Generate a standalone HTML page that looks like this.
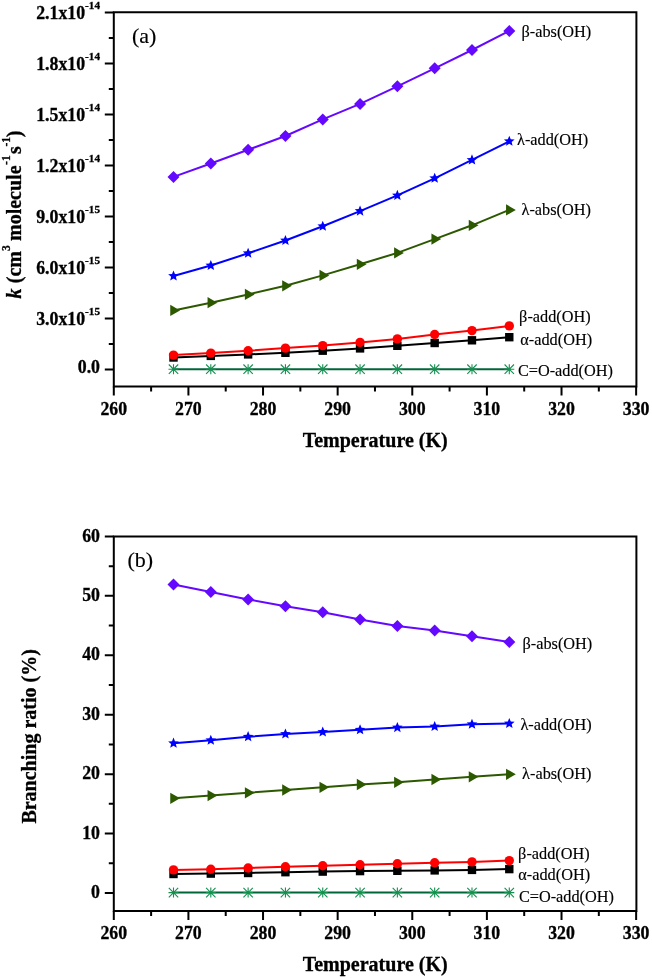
<!DOCTYPE html>
<html><head><meta charset="utf-8"><style>
html,body{margin:0;padding:0;background:#fff;}
svg{display:block;will-change:transform;}
text{font-family:"Liberation Serif",serif;fill:#000;stroke:#000;stroke-width:0.3px;}
.tk{font-size:17.8px;font-weight:bold;}
.sp{font-size:11.2px;}
.ti{font-size:20px;font-weight:bold;}
.kl{font-size:19.6px;}
.sp2{font-size:12px;}
.pl{font-size:22px;stroke-width:0.15px;}
.lb{font-size:16.3px;stroke-width:0.15px;}
</style></head><body>
<svg width="652" height="978" viewBox="0 0 652 978">
<rect width="652" height="978" fill="#fff"/>
<path d="M113.8 12.2V386.5M112.8 12.2H637.4M636.4 12.2V386.5M112.8 386.5H637.4" stroke="#000" stroke-width="2" fill="none"/>
<path d="M113.8 386.5V395.5M188.42 386.5V395.5M263.04 386.5V395.5M337.66 386.5V395.5M412.28 386.5V395.5M486.9 386.5V395.5M561.52 386.5V395.5M636.14 386.5V395.5M151.11 386.5V391.5M225.73 386.5V391.5M300.35 386.5V391.5M374.97 386.5V391.5M449.59 386.5V391.5M524.21 386.5V391.5M598.83 386.5V391.5M113.8 369.4H104.8M113.8 318.4H104.8M113.8 267.4H104.8M113.8 216.4H104.8M113.8 165.4H104.8M113.8 114.4H104.8M113.8 63.4H104.8M113.8 12.4H104.8M113.8 343.9H108.8M113.8 292.9H108.8M113.8 241.9H108.8M113.8 190.9H108.8M113.8 139.9H108.8M113.8 88.9H108.8M113.8 37.9H108.8" stroke="#000" stroke-width="2" fill="none"/>
<path d="M113.8 536.4V910.9M112.8 536.4H637.4M636.4 536.4V910.9M112.8 910.9H637.4" stroke="#000" stroke-width="2" fill="none"/>
<path d="M113.8 910.9V919.9M188.42 910.9V919.9M263.04 910.9V919.9M337.66 910.9V919.9M412.28 910.9V919.9M486.9 910.9V919.9M561.52 910.9V919.9M636.14 910.9V919.9M151.11 910.9V915.9M225.73 910.9V915.9M300.35 910.9V915.9M374.97 910.9V915.9M449.59 910.9V915.9M524.21 910.9V915.9M598.83 910.9V915.9M113.8 893H104.8M113.8 833.57H104.8M113.8 774.14H104.8M113.8 714.71H104.8M113.8 655.28H104.8M113.8 595.85H104.8M113.8 536.42H104.8M113.8 863.28H108.8M113.8 803.86H108.8M113.8 744.42H108.8M113.8 685H108.8M113.8 625.57H108.8M113.8 566.13H108.8" stroke="#000" stroke-width="2" fill="none"/>
<polyline points="173.5,369.2 210.81,369.2 248.12,369.2 285.43,369.2 322.74,369.2 360.05,369.2 397.36,369.2 434.67,369.2 471.98,369.2 509.29,369.2" fill="none" stroke="#00663A" stroke-width="2" stroke-linejoin="round"/>
<path d="M168.5 369.2H178.5M173.5 364.2V374.2M168.8 364.5L178.2 373.9M168.8 373.9L178.2 364.5" stroke="#14904F" stroke-width="1.1" fill="none"/>
<path d="M205.81 369.2H215.81M210.81 364.2V374.2M206.11 364.5L215.51 373.9M206.11 373.9L215.51 364.5" stroke="#14904F" stroke-width="1.1" fill="none"/>
<path d="M243.12 369.2H253.12M248.12 364.2V374.2M243.42 364.5L252.82 373.9M243.42 373.9L252.82 364.5" stroke="#14904F" stroke-width="1.1" fill="none"/>
<path d="M280.43 369.2H290.43M285.43 364.2V374.2M280.73 364.5L290.13 373.9M280.73 373.9L290.13 364.5" stroke="#14904F" stroke-width="1.1" fill="none"/>
<path d="M317.74 369.2H327.74M322.74 364.2V374.2M318.04 364.5L327.44 373.9M318.04 373.9L327.44 364.5" stroke="#14904F" stroke-width="1.1" fill="none"/>
<path d="M355.05 369.2H365.05M360.05 364.2V374.2M355.35 364.5L364.75 373.9M355.35 373.9L364.75 364.5" stroke="#14904F" stroke-width="1.1" fill="none"/>
<path d="M392.36 369.2H402.36M397.36 364.2V374.2M392.66 364.5L402.06 373.9M392.66 373.9L402.06 364.5" stroke="#14904F" stroke-width="1.1" fill="none"/>
<path d="M429.67 369.2H439.67M434.67 364.2V374.2M429.97 364.5L439.37 373.9M429.97 373.9L439.37 364.5" stroke="#14904F" stroke-width="1.1" fill="none"/>
<path d="M466.98 369.2H476.98M471.98 364.2V374.2M467.28 364.5L476.68 373.9M467.28 373.9L476.68 364.5" stroke="#14904F" stroke-width="1.1" fill="none"/>
<path d="M504.29 369.2H514.29M509.29 364.2V374.2M504.59 364.5L513.99 373.9M504.59 373.9L513.99 364.5" stroke="#14904F" stroke-width="1.1" fill="none"/>
<polyline points="173.5,357.5 210.81,355.9 248.12,354.4 285.43,352.8 322.74,350.7 360.05,348.4 397.36,345.8 434.67,343 471.98,340.3 509.29,337.2" fill="none" stroke="#000000" stroke-width="2" stroke-linejoin="round"/>
<rect x="169.3" y="353.3" width="8.4" height="8.4" fill="#000000"/>
<rect x="206.61" y="351.7" width="8.4" height="8.4" fill="#000000"/>
<rect x="243.92" y="350.2" width="8.4" height="8.4" fill="#000000"/>
<rect x="281.23" y="348.6" width="8.4" height="8.4" fill="#000000"/>
<rect x="318.54" y="346.5" width="8.4" height="8.4" fill="#000000"/>
<rect x="355.85" y="344.2" width="8.4" height="8.4" fill="#000000"/>
<rect x="393.16" y="341.6" width="8.4" height="8.4" fill="#000000"/>
<rect x="430.47" y="338.8" width="8.4" height="8.4" fill="#000000"/>
<rect x="467.78" y="336.1" width="8.4" height="8.4" fill="#000000"/>
<rect x="505.09" y="333" width="8.4" height="8.4" fill="#000000"/>
<polyline points="173.5,355.1 210.81,353.1 248.12,350.7 285.43,348.1 322.74,345.6 360.05,342.4 397.36,338.9 434.67,334.5 471.98,330.6 509.29,325.9" fill="none" stroke="#FF0000" stroke-width="2" stroke-linejoin="round"/>
<circle cx="173.5" cy="355.1" r="4.7" fill="#FF0000"/>
<circle cx="210.81" cy="353.1" r="4.7" fill="#FF0000"/>
<circle cx="248.12" cy="350.7" r="4.7" fill="#FF0000"/>
<circle cx="285.43" cy="348.1" r="4.7" fill="#FF0000"/>
<circle cx="322.74" cy="345.6" r="4.7" fill="#FF0000"/>
<circle cx="360.05" cy="342.4" r="4.7" fill="#FF0000"/>
<circle cx="397.36" cy="338.9" r="4.7" fill="#FF0000"/>
<circle cx="434.67" cy="334.5" r="4.7" fill="#FF0000"/>
<circle cx="471.98" cy="330.6" r="4.7" fill="#FF0000"/>
<circle cx="509.29" cy="325.9" r="4.7" fill="#FF0000"/>
<polyline points="173.5,310.4 210.81,302.7 248.12,294.4 285.43,285.8 322.74,275.4 360.05,264.3 397.36,252.9 434.67,239.1 471.98,225.3 509.29,209.9" fill="none" stroke="#2C5800" stroke-width="2" stroke-linejoin="round"/>
<path d="M170.25 304.77L180 310.4L170.25 316.03Z" fill="#2C5800"/>
<path d="M207.56 297.07L217.31 302.7L207.56 308.33Z" fill="#2C5800"/>
<path d="M244.87 288.77L254.62 294.4L244.87 300.03Z" fill="#2C5800"/>
<path d="M282.18 280.17L291.93 285.8L282.18 291.43Z" fill="#2C5800"/>
<path d="M319.49 269.77L329.24 275.4L319.49 281.03Z" fill="#2C5800"/>
<path d="M356.8 258.67L366.55 264.3L356.8 269.93Z" fill="#2C5800"/>
<path d="M394.11 247.27L403.86 252.9L394.11 258.53Z" fill="#2C5800"/>
<path d="M431.42 233.47L441.17 239.1L431.42 244.73Z" fill="#2C5800"/>
<path d="M468.73 219.67L478.48 225.3L468.73 230.93Z" fill="#2C5800"/>
<path d="M506.04 204.27L515.79 209.9L506.04 215.53Z" fill="#2C5800"/>
<polyline points="173.5,276 210.81,265.5 248.12,253.3 285.43,240.5 322.74,226.3 360.05,211.1 397.36,195.4 434.67,178.3 471.98,159.9 509.29,141.3" fill="none" stroke="#0000FF" stroke-width="2" stroke-linejoin="round"/>
<path d="M173.5 270.4L174.97 273.98L178.82 274.27L175.87 276.77L176.79 280.53L173.5 278.5L170.2 280.53L171.12 276.77L168.17 274.27L172.03 273.98Z" fill="#0000FF"/>
<path d="M210.81 259.9L212.28 263.48L216.13 263.77L213.18 266.27L214.1 270.03L210.81 268L207.51 270.03L208.43 266.27L205.48 263.77L209.34 263.48Z" fill="#0000FF"/>
<path d="M248.12 247.7L249.59 251.28L253.44 251.57L250.49 254.07L251.41 257.83L248.12 255.8L244.82 257.83L245.74 254.07L242.79 251.57L246.65 251.28Z" fill="#0000FF"/>
<path d="M285.43 234.9L286.9 238.48L290.75 238.77L287.8 241.27L288.72 245.03L285.43 243L282.13 245.03L283.05 241.27L280.1 238.77L283.96 238.48Z" fill="#0000FF"/>
<path d="M322.74 220.7L324.21 224.28L328.06 224.57L325.11 227.07L326.03 230.83L322.74 228.8L319.44 230.83L320.36 227.07L317.41 224.57L321.27 224.28Z" fill="#0000FF"/>
<path d="M360.05 205.5L361.52 209.08L365.37 209.37L362.42 211.87L363.34 215.63L360.05 213.6L356.75 215.63L357.67 211.87L354.72 209.37L358.58 209.08Z" fill="#0000FF"/>
<path d="M397.36 189.8L398.83 193.38L402.68 193.67L399.73 196.17L400.65 199.93L397.36 197.9L394.06 199.93L394.98 196.17L392.03 193.67L395.89 193.38Z" fill="#0000FF"/>
<path d="M434.67 172.7L436.14 176.28L439.99 176.57L437.04 179.07L437.96 182.83L434.67 180.8L431.37 182.83L432.29 179.07L429.34 176.57L433.2 176.28Z" fill="#0000FF"/>
<path d="M471.98 154.3L473.45 157.88L477.3 158.17L474.35 160.67L475.27 164.43L471.98 162.4L468.68 164.43L469.6 160.67L466.65 158.17L470.51 157.88Z" fill="#0000FF"/>
<path d="M509.29 135.7L510.76 139.28L514.61 139.57L511.66 142.07L512.58 145.83L509.29 143.8L505.99 145.83L506.91 142.07L503.96 139.57L507.82 139.28Z" fill="#0000FF"/>
<polyline points="173.5,176.9 210.81,163.5 248.12,149.8 285.43,136 322.74,119.4 360.05,103.9 397.36,86.3 434.67,68.3 471.98,50 509.29,30.9" fill="none" stroke="#6508FF" stroke-width="2" stroke-linejoin="round"/>
<path d="M173.5 170.9L179.5 176.9L173.5 182.9L167.5 176.9Z" fill="#6508FF"/>
<path d="M210.81 157.5L216.81 163.5L210.81 169.5L204.81 163.5Z" fill="#6508FF"/>
<path d="M248.12 143.8L254.12 149.8L248.12 155.8L242.12 149.8Z" fill="#6508FF"/>
<path d="M285.43 130L291.43 136L285.43 142L279.43 136Z" fill="#6508FF"/>
<path d="M322.74 113.4L328.74 119.4L322.74 125.4L316.74 119.4Z" fill="#6508FF"/>
<path d="M360.05 97.9L366.05 103.9L360.05 109.9L354.05 103.9Z" fill="#6508FF"/>
<path d="M397.36 80.3L403.36 86.3L397.36 92.3L391.36 86.3Z" fill="#6508FF"/>
<path d="M434.67 62.3L440.67 68.3L434.67 74.3L428.67 68.3Z" fill="#6508FF"/>
<path d="M471.98 44L477.98 50L471.98 56L465.98 50Z" fill="#6508FF"/>
<path d="M509.29 24.9L515.29 30.9L509.29 36.9L503.29 30.9Z" fill="#6508FF"/>
<polyline points="173.5,892.6 210.81,892.6 248.12,892.6 285.43,892.6 322.74,892.6 360.05,892.6 397.36,892.6 434.67,892.6 471.98,892.6 509.29,892.6" fill="none" stroke="#00663A" stroke-width="2" stroke-linejoin="round"/>
<path d="M168.5 892.6H178.5M173.5 887.6V897.6M168.8 887.9L178.2 897.3M168.8 897.3L178.2 887.9" stroke="#14904F" stroke-width="1.1" fill="none"/>
<path d="M205.81 892.6H215.81M210.81 887.6V897.6M206.11 887.9L215.51 897.3M206.11 897.3L215.51 887.9" stroke="#14904F" stroke-width="1.1" fill="none"/>
<path d="M243.12 892.6H253.12M248.12 887.6V897.6M243.42 887.9L252.82 897.3M243.42 897.3L252.82 887.9" stroke="#14904F" stroke-width="1.1" fill="none"/>
<path d="M280.43 892.6H290.43M285.43 887.6V897.6M280.73 887.9L290.13 897.3M280.73 897.3L290.13 887.9" stroke="#14904F" stroke-width="1.1" fill="none"/>
<path d="M317.74 892.6H327.74M322.74 887.6V897.6M318.04 887.9L327.44 897.3M318.04 897.3L327.44 887.9" stroke="#14904F" stroke-width="1.1" fill="none"/>
<path d="M355.05 892.6H365.05M360.05 887.6V897.6M355.35 887.9L364.75 897.3M355.35 897.3L364.75 887.9" stroke="#14904F" stroke-width="1.1" fill="none"/>
<path d="M392.36 892.6H402.36M397.36 887.6V897.6M392.66 887.9L402.06 897.3M392.66 897.3L402.06 887.9" stroke="#14904F" stroke-width="1.1" fill="none"/>
<path d="M429.67 892.6H439.67M434.67 887.6V897.6M429.97 887.9L439.37 897.3M429.97 897.3L439.37 887.9" stroke="#14904F" stroke-width="1.1" fill="none"/>
<path d="M466.98 892.6H476.98M471.98 887.6V897.6M467.28 887.9L476.68 897.3M467.28 897.3L476.68 887.9" stroke="#14904F" stroke-width="1.1" fill="none"/>
<path d="M504.29 892.6H514.29M509.29 887.6V897.6M504.59 887.9L513.99 897.3M504.59 897.3L513.99 887.9" stroke="#14904F" stroke-width="1.1" fill="none"/>
<polyline points="173.5,874 210.81,873.6 248.12,873 285.43,872.2 322.74,871.6 360.05,871.1 397.36,870.8 434.67,870.4 471.98,869.9 509.29,869.1" fill="none" stroke="#000000" stroke-width="2" stroke-linejoin="round"/>
<rect x="169.3" y="869.8" width="8.4" height="8.4" fill="#000000"/>
<rect x="206.61" y="869.4" width="8.4" height="8.4" fill="#000000"/>
<rect x="243.92" y="868.8" width="8.4" height="8.4" fill="#000000"/>
<rect x="281.23" y="868" width="8.4" height="8.4" fill="#000000"/>
<rect x="318.54" y="867.4" width="8.4" height="8.4" fill="#000000"/>
<rect x="355.85" y="866.9" width="8.4" height="8.4" fill="#000000"/>
<rect x="393.16" y="866.6" width="8.4" height="8.4" fill="#000000"/>
<rect x="430.47" y="866.2" width="8.4" height="8.4" fill="#000000"/>
<rect x="467.78" y="865.7" width="8.4" height="8.4" fill="#000000"/>
<rect x="505.09" y="864.9" width="8.4" height="8.4" fill="#000000"/>
<polyline points="173.5,869.9 210.81,869.3 248.12,868 285.43,866.8 322.74,865.8 360.05,864.8 397.36,863.8 434.67,862.7 471.98,861.9 509.29,860.6" fill="none" stroke="#FF0000" stroke-width="2" stroke-linejoin="round"/>
<circle cx="173.5" cy="869.9" r="4.7" fill="#FF0000"/>
<circle cx="210.81" cy="869.3" r="4.7" fill="#FF0000"/>
<circle cx="248.12" cy="868" r="4.7" fill="#FF0000"/>
<circle cx="285.43" cy="866.8" r="4.7" fill="#FF0000"/>
<circle cx="322.74" cy="865.8" r="4.7" fill="#FF0000"/>
<circle cx="360.05" cy="864.8" r="4.7" fill="#FF0000"/>
<circle cx="397.36" cy="863.8" r="4.7" fill="#FF0000"/>
<circle cx="434.67" cy="862.7" r="4.7" fill="#FF0000"/>
<circle cx="471.98" cy="861.9" r="4.7" fill="#FF0000"/>
<circle cx="509.29" cy="860.6" r="4.7" fill="#FF0000"/>
<polyline points="173.5,798.3 210.81,795.6 248.12,792.8 285.43,790 322.74,787.3 360.05,784.5 397.36,782.3 434.67,779.5 471.98,776.8 509.29,774.3" fill="none" stroke="#2C5800" stroke-width="2" stroke-linejoin="round"/>
<path d="M170.25 792.67L180 798.3L170.25 803.93Z" fill="#2C5800"/>
<path d="M207.56 789.97L217.31 795.6L207.56 801.23Z" fill="#2C5800"/>
<path d="M244.87 787.17L254.62 792.8L244.87 798.43Z" fill="#2C5800"/>
<path d="M282.18 784.37L291.93 790L282.18 795.63Z" fill="#2C5800"/>
<path d="M319.49 781.67L329.24 787.3L319.49 792.93Z" fill="#2C5800"/>
<path d="M356.8 778.87L366.55 784.5L356.8 790.13Z" fill="#2C5800"/>
<path d="M394.11 776.67L403.86 782.3L394.11 787.93Z" fill="#2C5800"/>
<path d="M431.42 773.87L441.17 779.5L431.42 785.13Z" fill="#2C5800"/>
<path d="M468.73 771.17L478.48 776.8L468.73 782.43Z" fill="#2C5800"/>
<path d="M506.04 768.67L515.79 774.3L506.04 779.93Z" fill="#2C5800"/>
<polyline points="173.5,743.2 210.81,740.3 248.12,736.7 285.43,734 322.74,732 360.05,729.8 397.36,727.6 434.67,726.5 471.98,724.3 509.29,723.5" fill="none" stroke="#0000FF" stroke-width="2" stroke-linejoin="round"/>
<path d="M173.5 737.6L174.97 741.18L178.82 741.47L175.87 743.97L176.79 747.73L173.5 745.7L170.2 747.73L171.12 743.97L168.17 741.47L172.03 741.18Z" fill="#0000FF"/>
<path d="M210.81 734.7L212.28 738.28L216.13 738.57L213.18 741.07L214.1 744.83L210.81 742.8L207.51 744.83L208.43 741.07L205.48 738.57L209.34 738.28Z" fill="#0000FF"/>
<path d="M248.12 731.1L249.59 734.68L253.44 734.97L250.49 737.47L251.41 741.23L248.12 739.2L244.82 741.23L245.74 737.47L242.79 734.97L246.65 734.68Z" fill="#0000FF"/>
<path d="M285.43 728.4L286.9 731.98L290.75 732.27L287.8 734.77L288.72 738.53L285.43 736.5L282.13 738.53L283.05 734.77L280.1 732.27L283.96 731.98Z" fill="#0000FF"/>
<path d="M322.74 726.4L324.21 729.98L328.06 730.27L325.11 732.77L326.03 736.53L322.74 734.5L319.44 736.53L320.36 732.77L317.41 730.27L321.27 729.98Z" fill="#0000FF"/>
<path d="M360.05 724.2L361.52 727.78L365.37 728.07L362.42 730.57L363.34 734.33L360.05 732.3L356.75 734.33L357.67 730.57L354.72 728.07L358.58 727.78Z" fill="#0000FF"/>
<path d="M397.36 722L398.83 725.58L402.68 725.87L399.73 728.37L400.65 732.13L397.36 730.1L394.06 732.13L394.98 728.37L392.03 725.87L395.89 725.58Z" fill="#0000FF"/>
<path d="M434.67 720.9L436.14 724.48L439.99 724.77L437.04 727.27L437.96 731.03L434.67 729L431.37 731.03L432.29 727.27L429.34 724.77L433.2 724.48Z" fill="#0000FF"/>
<path d="M471.98 718.7L473.45 722.28L477.3 722.57L474.35 725.07L475.27 728.83L471.98 726.8L468.68 728.83L469.6 725.07L466.65 722.57L470.51 722.28Z" fill="#0000FF"/>
<path d="M509.29 717.9L510.76 721.48L514.61 721.77L511.66 724.27L512.58 728.03L509.29 726L505.99 728.03L506.91 724.27L503.96 721.77L507.82 721.48Z" fill="#0000FF"/>
<polyline points="173.5,584.4 210.81,592.1 248.12,599.4 285.43,606.2 322.74,612.3 360.05,619.4 397.36,625.9 434.67,630.5 471.98,636.3 509.29,642.1" fill="none" stroke="#6508FF" stroke-width="2" stroke-linejoin="round"/>
<path d="M173.5 578.4L179.5 584.4L173.5 590.4L167.5 584.4Z" fill="#6508FF"/>
<path d="M210.81 586.1L216.81 592.1L210.81 598.1L204.81 592.1Z" fill="#6508FF"/>
<path d="M248.12 593.4L254.12 599.4L248.12 605.4L242.12 599.4Z" fill="#6508FF"/>
<path d="M285.43 600.2L291.43 606.2L285.43 612.2L279.43 606.2Z" fill="#6508FF"/>
<path d="M322.74 606.3L328.74 612.3L322.74 618.3L316.74 612.3Z" fill="#6508FF"/>
<path d="M360.05 613.4L366.05 619.4L360.05 625.4L354.05 619.4Z" fill="#6508FF"/>
<path d="M397.36 619.9L403.36 625.9L397.36 631.9L391.36 625.9Z" fill="#6508FF"/>
<path d="M434.67 624.5L440.67 630.5L434.67 636.5L428.67 630.5Z" fill="#6508FF"/>
<path d="M471.98 630.3L477.98 636.3L471.98 642.3L465.98 636.3Z" fill="#6508FF"/>
<path d="M509.29 636.1L515.29 642.1L509.29 648.1L503.29 642.1Z" fill="#6508FF"/>
<text x="113.8" y="414.7" text-anchor="middle" class="tk">260</text>
<text x="188.42" y="414.7" text-anchor="middle" class="tk">270</text>
<text x="263.04" y="414.7" text-anchor="middle" class="tk">280</text>
<text x="337.66" y="414.7" text-anchor="middle" class="tk">290</text>
<text x="412.28" y="414.7" text-anchor="middle" class="tk">300</text>
<text x="486.9" y="414.7" text-anchor="middle" class="tk">310</text>
<text x="561.52" y="414.7" text-anchor="middle" class="tk">320</text>
<text x="636.14" y="414.7" text-anchor="middle" class="tk">330</text>
<text x="113.8" y="938.8" text-anchor="middle" class="tk">260</text>
<text x="188.42" y="938.8" text-anchor="middle" class="tk">270</text>
<text x="263.04" y="938.8" text-anchor="middle" class="tk">280</text>
<text x="337.66" y="938.8" text-anchor="middle" class="tk">290</text>
<text x="412.28" y="938.8" text-anchor="middle" class="tk">300</text>
<text x="486.9" y="938.8" text-anchor="middle" class="tk">310</text>
<text x="561.52" y="938.8" text-anchor="middle" class="tk">320</text>
<text x="636.14" y="938.8" text-anchor="middle" class="tk">330</text>
<text x="100" y="372.8" text-anchor="end" class="tk">0.0</text>
<text x="100" y="325.1" text-anchor="end" class="tk">3.0x10<tspan class="sp" dy="-9.8">-15</tspan></text>
<text x="100" y="274.1" text-anchor="end" class="tk">6.0x10<tspan class="sp" dy="-9.8">-15</tspan></text>
<text x="100" y="223.1" text-anchor="end" class="tk">9.0x10<tspan class="sp" dy="-9.8">-15</tspan></text>
<text x="100" y="172.1" text-anchor="end" class="tk">1.2x10<tspan class="sp" dy="-9.8">-14</tspan></text>
<text x="100" y="121.1" text-anchor="end" class="tk">1.5x10<tspan class="sp" dy="-9.8">-14</tspan></text>
<text x="100" y="70.1" text-anchor="end" class="tk">1.8x10<tspan class="sp" dy="-9.8">-14</tspan></text>
<text x="100" y="19.1" text-anchor="end" class="tk">2.1x10<tspan class="sp" dy="-9.8">-14</tspan></text>
<text x="100" y="898.2" text-anchor="end" class="tk">0</text>
<text x="100" y="838.77" text-anchor="end" class="tk">10</text>
<text x="100" y="779.34" text-anchor="end" class="tk">20</text>
<text x="100" y="719.91" text-anchor="end" class="tk">30</text>
<text x="100" y="660.48" text-anchor="end" class="tk">40</text>
<text x="100" y="601.05" text-anchor="end" class="tk">50</text>
<text x="100" y="541.62" text-anchor="end" class="tk">60</text>
<text x="375.2" y="447.2" text-anchor="middle" class="ti">Temperature (K)</text>
<text x="375.2" y="971.2" text-anchor="middle" class="ti">Temperature (K)</text>
<text transform="translate(36,736.4) rotate(-90)" text-anchor="middle" class="ti">Branching ratio (%)</text>
<g transform="translate(21.0,0) rotate(-90)"><text x="-298.50" y="0.00" style="font-size:20px;font-weight:bold;font-style:italic;">k</text><text x="-283.20" y="0.00" style="font-size:20px;font-weight:bold;">(cm</text><text x="-251.00" y="-10.90" style="font-size:11.5px;font-weight:bold;">3</text><text x="-241.00" y="0.00" style="font-size:20px;font-weight:bold;">molecule</text><text x="-164.90" y="-10.90" style="font-size:11.5px;font-weight:bold;">-1</text><text x="-153.90" y="0.00" style="font-size:20px;font-weight:bold;">s</text><text x="-146.50" y="-10.90" style="font-size:11.5px;font-weight:bold;">-1</text><text x="-137.20" y="0.00" style="font-size:20px;font-weight:bold;">)</text></g>
<text x="132" y="42.5" class="pl">(a)</text>
<text x="127.5" y="566.9" class="pl">(b)</text>
<text x="521.5" y="37.1" class="lb">β-abs(OH)</text>
<text x="517" y="144.9" class="lb">λ-add(OH)</text>
<text x="521.5" y="214.7" class="lb">λ-abs(OH)</text>
<text x="519.1" y="322" class="lb">β-add(OH)</text>
<text x="520.3" y="345.2" class="lb">α-add(OH)</text>
<text x="517.9" y="375.8" class="lb">C=O-add(OH)</text>
<text x="522.5" y="649" class="lb">β-abs(OH)</text>
<text x="520.4" y="730" class="lb">λ-add(OH)</text>
<text x="522.1" y="778.9" class="lb">λ-abs(OH)</text>
<text x="518.1" y="859" class="lb">β-add(OH)</text>
<text x="518.3" y="879.8" class="lb">α-add(OH)</text>
<text x="518.9" y="901.5" class="lb">C=O-add(OH)</text>
</svg></body></html>
